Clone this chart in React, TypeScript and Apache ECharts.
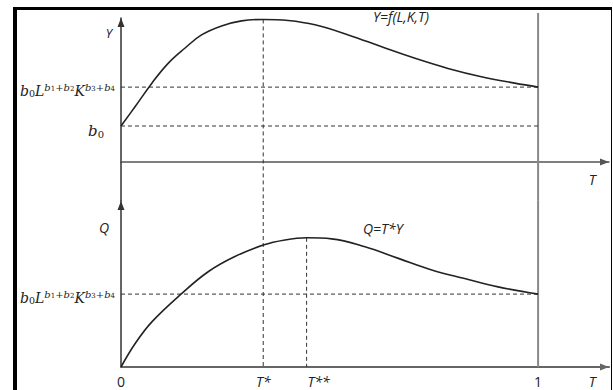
import React, { useEffect, useRef } from 'react';
import * as echarts from 'echarts';

// Upper panel: Y = f(L,K,T)
const topT = [0, 0.034, 0.074, 0.113, 0.153, 0.193, 0.241, 0.289, 0.341, 0.401, 0.465, 0.545, 0.625, 0.705, 0.784, 0.864, 0.944, 1.0];
const topY = [1.0, 1.54, 2.19, 2.74, 3.16, 3.53, 3.78, 3.92, 3.96, 3.93, 3.81, 3.53, 3.2, 2.88, 2.6, 2.37, 2.19, 2.08];
// Lower panel: Q = T*Y
const botT = [0, 0.034, 0.074, 0.146, 0.209, 0.273, 0.341, 0.393, 0.445, 0.505, 0.585, 0.665, 0.745, 0.824, 0.904, 1.0];
const botQ = [0, 0.65, 1.25, 2.04, 2.64, 3.06, 3.38, 3.52, 3.58, 3.55, 3.33, 3.01, 2.69, 2.45, 2.22, 2.02];

const T_STAR = 0.341;
const T_STAR2 = 0.445;
const Y_PEAK = 3.96;
const Q_PEAK = 3.58;
const B0 = 1.0;
const B0L_TOP = 2.08;
const B0L_BOT = 2.02;
const X_MAX = 1.17;
const TOP_Y_MAX = 4;
const TOP_EXT = -1.08; // continuation of the vertical guides down to the lower panel
const TOP_LINE_END = 4.14;
const BOT_Y_MAX = 4.6;
const T_LABEL_POS = 1.13;
const Y_NAME_POS = 3.58;
const Q_NAME_POS = 3.87;

const MATH = '{m|b}{ms|0}{m|L}{s|b}{ss|1}{s|+b}{ss|2}{m|K}{s|b}{ss|3}{s|+b}{ss|4}';
const B0_LABEL = '{pb|b}{pbs|0}{sp|\u00a0}';
const topYTicks = [B0, B0L_TOP, Y_NAME_POS];
const topYLabels = [B0_LABEL, MATH, '{yn|Y}'];
const botYTicks = [B0L_BOT, Q_NAME_POS];
const botYLabels = [MATH, '{qn|Q}'];
const topXTicks = [T_LABEL_POS];
const topXLabels = ['{i|T}'];
const botXTicks = [0, T_STAR, T_STAR2, 1, T_LABEL_POS];
const botXLabels = ['{n|0}', '{i|T*}', '{i2|T**}', '{n|1}', '{i|T}'];

const pick = (vals: number[], labels: string[]) => (v: number) => {
  for (let i = 0; i < vals.length; i++) if (Math.abs(vals[i] - v) < 1e-6) return labels[i];
  return '';
};

const SANS = '"Open Sans", sans-serif';
const SERIF = '"DejaVu Serif", serif';
const C = '#222';
const rich: any = {
  m: { fontFamily: SERIF, fontStyle: 'italic', fontSize: 14, color: C, verticalAlign: 'bottom', height: 22 },
  ms: { fontFamily: SERIF, fontSize: 9.5, color: C, verticalAlign: 'bottom', height: 18 },
  s: { fontFamily: SERIF, fontStyle: 'italic', fontSize: 10, color: C, verticalAlign: 'top', height: 30 },
  ss: { fontFamily: SERIF, fontSize: 7, color: C, verticalAlign: 'bottom', height: 26 },
  pb: { fontFamily: SERIF, fontStyle: 'italic', fontSize: 15, color: C, verticalAlign: 'bottom', height: 16 },
  pbs: { fontFamily: SERIF, fontSize: 10, color: C, verticalAlign: 'bottom', height: 10 },
  sp: { fontSize: 10, width: 11, height: 26, verticalAlign: 'bottom' },
  yn: { fontFamily: SANS, fontStyle: 'italic', fontSize: 12.5, color: C, padding: [0, 3, 0, 0] },
  qn: { fontFamily: SANS, fontStyle: 'italic', fontSize: 14, color: C, padding: [0, 6, 0, 0] },
  n: { fontFamily: SANS, fontSize: 14, color: C },
  i: { fontFamily: SANS, fontStyle: 'italic', fontSize: 14, color: C },
  i2: { fontFamily: SANS, fontStyle: 'italic', fontSize: 14, color: C, padding: [0, 0, 0, 24] },
};

const arrowLine = (color: string, width: number) => ({
  show: true,
  onZero: true,
  symbol: ['none', 'triangle'],
  symbolSize: [7, 9],
  symbolOffset: [0, -4.5],
  lineStyle: { color, width },
});

const guide = (xi: number, yi: number, pts: number[][], dashed: boolean, color = '#333', width = 1) => ({
  type: 'line',
  xAxisIndex: xi,
  yAxisIndex: yi,
  data: pts,
  symbol: 'none',
  clip: false,
  silent: true,
  lineStyle: { color, width, type: dashed ? [4, 3] : 'solid' },
  z: 1,
});

export default function App() {
  const ref = useRef<HTMLDivElement>(null);
  useEffect(() => {
    if (!ref.current) return;
    const chart = echarts.init(ref.current, null, { renderer: 'svg' });
    const option: any = {
      animation: false,
      backgroundColor: '#fff',
      grid: [
        { left: 121, top: 18, width: 488, height: 144 },
        { left: 121, top: 201, width: 488, height: 166 },
      ],
      xAxis: [
        {
          type: 'value', gridIndex: 0, min: 0, max: X_MAX,
          axisLine: arrowLine('#555', 1.5),
          axisTick: { show: false }, splitLine: { show: false },
          axisLabel: { customValues: topXTicks, formatter: pick(topXTicks, topXLabels), rich, margin: 10 },
        },
        {
          type: 'value', gridIndex: 1, min: 0, max: X_MAX,
          axisLine: arrowLine('#666', 2),
          axisTick: { show: false }, splitLine: { show: false },
          axisLabel: { customValues: botXTicks, formatter: pick(botXTicks, botXLabels), rich, margin: 7 },
        },
      ],
      yAxis: [
        {
          type: 'value', gridIndex: 0, min: 0, max: TOP_Y_MAX,
          axisLine: arrowLine('#333', 1.5),
          axisTick: { show: false }, splitLine: { show: false },
          axisLabel: { customValues: topYTicks, formatter: pick(topYTicks, topYLabels), rich, margin: 6 },
        },
        {
          type: 'value', gridIndex: 1, min: 0, max: BOT_Y_MAX,
          axisLine: arrowLine('#333', 1.5),
          axisTick: { show: false }, splitLine: { show: false },
          axisLabel: { customValues: botYTicks, formatter: pick(botYTicks, botYLabels), rich, margin: 6 },
        },
      ],
      series: [
        guide(0, 0, [[0, 0], [0, TOP_EXT]], false, '#333', 1.5),
        guide(0, 0, [[1, TOP_LINE_END], [1, TOP_EXT]], false, '#888', 2),
        guide(1, 1, [[1, BOT_Y_MAX], [1, 0]], false, '#888', 2),
        guide(0, 0, [[0, B0L_TOP], [1, B0L_TOP]], true),
        guide(0, 0, [[0, B0], [1, B0]], true),
        guide(0, 0, [[T_STAR, Y_PEAK], [T_STAR, TOP_EXT]], true),
        guide(1, 1, [[T_STAR, BOT_Y_MAX], [T_STAR, 0]], true),
        guide(1, 1, [[T_STAR2, Q_PEAK], [T_STAR2, 0]], true),
        guide(1, 1, [[0, B0L_BOT], [1, B0L_BOT]], true),
        {
          type: 'line', xAxisIndex: 0, yAxisIndex: 0,
          data: topT.map((t, i) => [t, topY[i]]),
          smooth: 0.4, symbol: 'none', clip: false,
          lineStyle: { color: C, width: 1.6 }, z: 3,
        },
        {
          type: 'line', xAxisIndex: 1, yAxisIndex: 1,
          data: botT.map((t, i) => [t, botQ[i]]),
          smooth: 0.4, symbol: 'none', clip: false,
          lineStyle: { color: C, width: 1.6 }, z: 3,
        },
      ],
      graphic: [
        { type: 'rect', shape: { x: 13, y: 7, width: 4, height: 383 }, style: { fill: '#000' }, z: 10 },
        { type: 'rect', shape: { x: 13, y: 7, width: 599, height: 3 }, style: { fill: '#000' }, z: 10 },
        { type: 'rect', shape: { x: 611, y: 7, width: 1, height: 383 }, style: { fill: '#000' }, z: 10 },
        { type: 'text', x: 373, y: 9, style: { text: 'Y=f(L,K,T)', font: 'italic 14px "Open Sans", sans-serif', fill: C }, z: 10 },
        { type: 'text', x: 363, y: 221, style: { text: 'Q=T*Y', font: 'italic 14px "Open Sans", sans-serif', fill: C }, z: 10 },
      ],
    };
    chart.setOption(option);
    return () => chart.dispose();
  }, []);
  return (
    <div
      ref={ref}
      style={{ position: 'fixed', left: 0, top: 0, width: 613, height: 390, background: '#fff' }}
    />
  );
}
